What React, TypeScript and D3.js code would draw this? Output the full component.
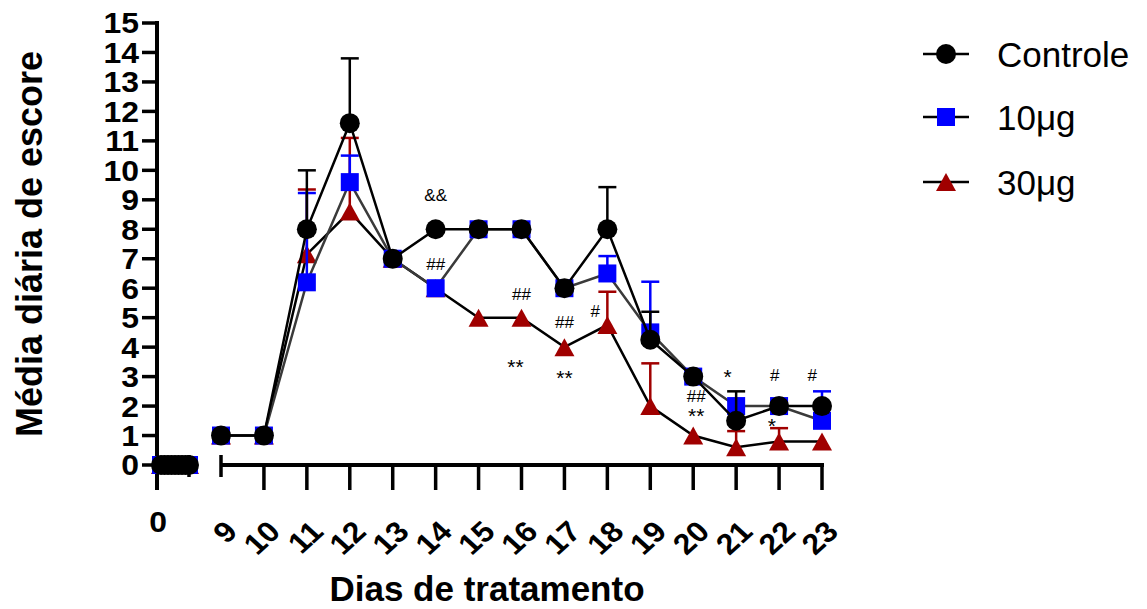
import React from "react";
import * as d3 from "d3";

// ---------- data ----------
const seg1Days = [0, 1, 2, 3, 4, 5, 6, 7, 8];
const seg1Values = [0, 0, 0, 0, 0, 0, 0, 0, 0];
const days = [9, 10, 11, 12, 13, 14, 15, 16, 17, 18, 19, 20, 21, 22, 23];
const controleMean = [1, 1, 8, 11.6, 7, 8, 8, 8, 6, 8, 4.25, 3, 1.5, 2, 2];
const controleErr = [0, 0, 2, 2.2, 0, 0, 0, 0, 0, 1.43, 0.95, 0, 1.0, 0, 0];
const dose10Mean = [1, 1, 6.2, 9.6, 7, 6, 8, 8, 6, 6.5, 4.5, 3, 2, 2, 1.5];
const dose10Err = [0, 0, 3.03, 0.9, 0, 0, 0, 0, 0, 0.59, 1.72, 0, 0, 0, 1.0];
const dose30Mean = [1, 1, 7.15, 8.6, 7, 6, 5, 5, 4, 4.75, 2, 1, 0.6, 0.8, 0.8];
const dose30Err = [0, 0, 2.2, 2.5, 0, 0, 0, 0, 0, 1.13, 1.45, 0, 0.55, 0.45, 0];
const seriesNames = ["Controle", "10μg", "30μg"];
const yTicks = [0, 1, 2, 3, 4, 5, 6, 7, 8, 9, 10, 11, 12, 13, 14, 15];
const xTickLabels = ["9", "10", "11", "12", "13", "14", "15", "16", "17", "18", "19", "20", "21", "22", "23"];
const annText = ["&&", "##", "##", "**", "##", "**", "#", "*", "##", "**", "#", "*", "#"];
const annDay = [14, 14, 16, 15.86, 17, 17, 17.72, 20.8, 20.07, 20.07, 21.9, 21.83, 22.77];
const annValue = [9.16, 6.82, 5.8, 3.5, 4.85, 3.12, 5.23, 3.16, 2.33, 1.83, 3.05, 1.49, 3.05];

// ---------- styles ----------
const FONT = "'Liberation Sans', Arial, Helvetica, sans-serif";
const styles = [
  { fill: "#000000", line: "#000000", shape: "circle" },
  { fill: "#0000FF", line: "#3a3a3a", shape: "square" },
  { fill: "#A00000", line: "#000000", shape: "triangle" },
];

function Marker({ x, y, shape, fill }: { x: number; y: number; shape: string; fill: string }) {
  if (shape === "circle") return <circle cx={x} cy={y} r={10} fill={fill} />;
  if (shape === "square") return <rect x={x - 9} y={y - 9} width={18} height={18} fill={fill} />;
  const w = 20, h = 18;
  return <path d={`M${x},${y - h / 2}L${x + w / 2},${y + h / 2}L${x - w / 2},${y + h / 2}Z`} fill={fill} />;
}

export default function App() {
  const W = 1147, H = 609;
  const y = d3.scaleLinear().domain([0, 15]).range([465, 23]);
  const x1 = d3.scaleLinear().domain([0, 8]).range([161, 189]);
  const x2 = d3.scaleLinear().domain([9, 23]).range([221, 822]);

  const means = [controleMean, dose10Mean, dose30Mean];
  const errs = [controleErr, dose10Err, dose30Err];
  const drawOrder = [2, 1, 0];

  const line2 = d3.line<number>().x((_, i) => x2(days[i])).y((v) => y(v));
  const line1 = d3.line<number>().x((_, i) => x1(seg1Days[i])).y((v) => y(v));

  const legendY = [54, 117, 182];

  return (
    <svg width={W} height={H} style={{ position: "absolute", left: 0, top: 0, background: "#fff" }} fontFamily={FONT}>
      <rect width={W} height={H} fill="#fff" />
      {/* Y axis */}
      <line x1={157} x2={157} y1={y(15) - 2} y2={490} stroke="#000" strokeWidth={4} />
      {yTicks.map((t) => (
        <g key={t}>
          <line x1={142} x2={157} y1={y(t)} y2={y(t)} stroke="#000" strokeWidth={3.5} />
          <text transform={`translate(139,${y(t)}) scale(1.1,1)`} dy="0.36em" textAnchor="end" fontSize={29} fontWeight="bold">
            {t}
          </text>
        </g>
      ))}
      {/* X axis segments */}
      <line x1={155} x2={189} y1={y(0)} y2={y(0)} stroke="#000" strokeWidth={4} />
      <line x1={189} x2={189} y1={455} y2={477} stroke="#000" strokeWidth={3.5} />
      <line x1={x2(9)} x2={x2(23) + 2} y1={y(0)} y2={y(0)} stroke="#000" strokeWidth={4} />
      <line x1={x2(9)} x2={x2(9)} y1={455} y2={477} stroke="#000" strokeWidth={3.5} />
      {days.slice(1).map((d) => (
        <line key={d} x1={x2(d)} x2={x2(d)} y1={y(0)} y2={490} stroke="#000" strokeWidth={3.5} />
      ))}
      <text transform="translate(158,522) scale(1.1,1)" dy="0.36em" textAnchor="middle" fontSize={29} fontWeight="bold">0</text>
      {days.map((d, i) => (
        <text
          key={d}
          transform={`translate(${x2(d) + 10},${526}) scale(1.1,1) rotate(-45)`}
          dy="0.36em"
          textAnchor="end"
          fontSize={29}
          fontWeight="bold"
        >
          {xTickLabels[i]}
        </text>
      ))}
      {/* titles */}
      <text transform="translate(42,244) rotate(-90)" textAnchor="middle" fontSize={36} fontWeight="bold">
        Média diária de escore
      </text>
      <text x={487} y={601} textAnchor="middle" fontSize={35} fontWeight="bold">
        Dias de tratamento
      </text>

      {/* series */}
      {drawOrder.map((s) => {
        const st = styles[s];
        return (
          <g key={s}>
            <path d={line1(seg1Values) || ""} fill="none" stroke={st.line} strokeWidth={2.5} />
            <path d={line2(means[s]) || ""} fill="none" stroke={st.line} strokeWidth={2.5} />
            {means[s].map((m, i) =>
              errs[s][i] > 0 ? (
                <g key={i}>
                  <line x1={x2(days[i])} x2={x2(days[i])} y1={y(m)} y2={y(m + errs[s][i])} stroke={st.fill} strokeWidth={2.5} />
                  <line x1={x2(days[i]) - 9} x2={x2(days[i]) + 9} y1={y(m + errs[s][i])} y2={y(m + errs[s][i])} stroke={st.fill} strokeWidth={2.5} />
                </g>
              ) : null
            )}
            {seg1Values.map((v, i) => (
              <Marker key={"a" + i} x={x1(seg1Days[i])} y={y(v)} shape={st.shape} fill={st.fill} />
            ))}
            {means[s].map((m, i) => (
              <Marker key={i} x={x2(days[i])} y={y(m)} shape={st.shape} fill={st.fill} />
            ))}
          </g>
        );
      })}

      {/* annotations */}
      {annText.map((t, i) => {
        const star = t.startsWith("*");
        return (
          <text
            key={i}
            x={x2(annDay[i])}
            y={y(annValue[i])}
            dy={star ? "0.57em" : "0.36em"}
            textAnchor="middle"
            fontSize={star ? 21 : 17}
          >
            {t}
          </text>
        );
      })}

      {/* legend */}
      {seriesNames.map((n, i) => (
        <g key={n}>
          <line x1={923} x2={969} y1={legendY[i]} y2={legendY[i]} stroke="#000" strokeWidth={2.5} />
          <Marker x={946} y={legendY[i]} shape={styles[i].shape} fill={styles[i].fill} />
          <text x={997} y={legendY[i]} dy="0.36em" fontSize={35}>
            {n}
          </text>
        </g>
      ))}
    </svg>
  );
}
